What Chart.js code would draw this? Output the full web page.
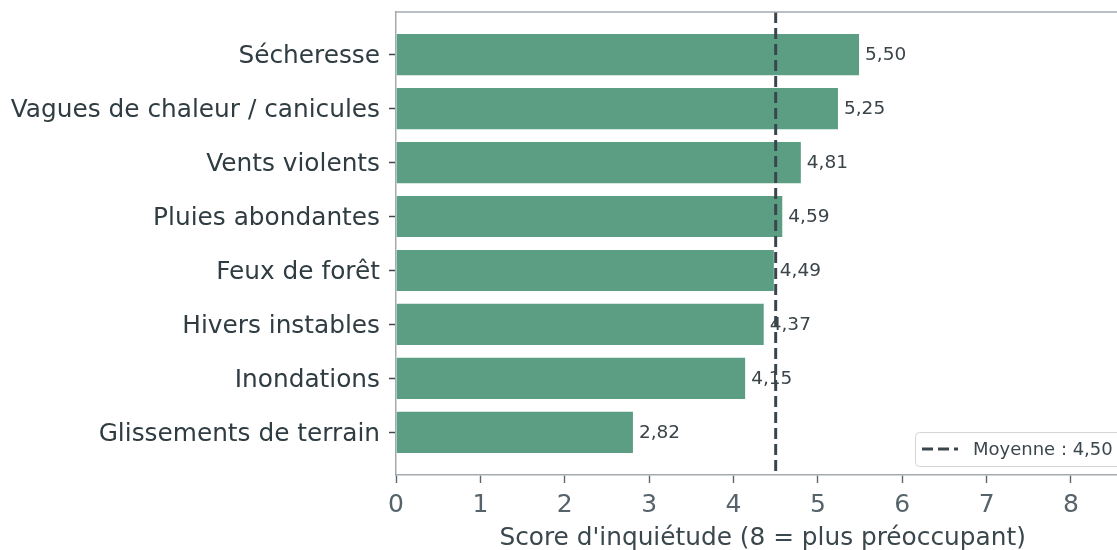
<!DOCTYPE html>
<html>
<head>
<meta charset="utf-8">
<script src="https://cdn.jsdelivr.net/npm/chart.js@4.4.1/dist/chart.umd.min.js"></script>
<style>
  html, body { margin: 0; padding: 0; background: #fff; overflow: hidden; }
  #wrap { width: 1150px; height: 550px; }
</style>
</head>
<body>
<div id="wrap"><canvas id="c" width="1150" height="550"></canvas></div>
<script>
const categories = [
  "Sécheresse",
  "Vagues de chaleur / canicules",
  "Vents violents",
  "Pluies abondantes",
  "Feux de forêt",
  "Hivers instables",
  "Inondations",
  "Glissements de terrain"
];
const scores = [5.50, 5.25, 4.81, 4.59, 4.49, 4.37, 4.15, 2.82];
const meanScore = 4.50;
const meanLabel = "Moyenne : 4,50";
const xTicks = [0, 1, 2, 3, 4, 5, 6, 7, 8];
const xTitle = "Score d'inquiétude (8 = plus préoccupant)";

const X_MAX = 8.69;
const Y_MIN = -0.79, Y_MAX = categories.length - 1 + 0.79;

const FONT = "'DejaVu Sans', sans-serif";
const fmt = v => v.toFixed(2).replace('.', ',');

const valueLabels = {
  id: 'valueLabels',
  afterDatasetDraw(chart, args) {
    if (args.index !== 0) return;
    const ctx = chart.ctx;
    ctx.save();
    ctx.font = "18.5px " + FONT;
    ctx.fillStyle = '#3a4449';
    ctx.textAlign = 'left';
    ctx.textBaseline = 'middle';
    args.meta.data.forEach((el, i) => {
      ctx.fillText(fmt(scores[i]), el.x + 5, el.y + 1);
    });
    ctx.restore();
  }
};

const frame = {
  id: 'frame',
  afterDraw(chart) {
    const {ctx, chartArea: a} = chart;
    ctx.save();
    ctx.strokeStyle = '#a3abae';
    ctx.lineWidth = 1.5;
    ctx.beginPath();
    ctx.moveTo(a.left, a.top);
    ctx.lineTo(a.right, a.top);
    ctx.lineTo(a.right, a.bottom);
    ctx.stroke();
    ctx.restore();
  }
};

const legendBox = {
  id: 'legendBox',
  afterDraw(chart) {
    const ctx = chart.ctx;
    const ds = chart.data.datasets[1];
    const bx = 915.5, by = 432.5, bw = 206, bh = 34, r = 4;
    ctx.save();
    ctx.beginPath();
    ctx.moveTo(bx + r, by);
    ctx.lineTo(bx + bw - r, by);
    ctx.arcTo(bx + bw, by, bx + bw, by + r, r);
    ctx.lineTo(bx + bw, by + bh - r);
    ctx.arcTo(bx + bw, by + bh, bx + bw - r, by + bh, r);
    ctx.lineTo(bx + r, by + bh);
    ctx.arcTo(bx, by + bh, bx, by + bh - r, r);
    ctx.lineTo(bx, by + r);
    ctx.arcTo(bx, by, bx + r, by, r);
    ctx.closePath();
    ctx.fillStyle = 'rgba(255,255,255,0.85)';
    ctx.fill();
    ctx.strokeStyle = '#d4d4d4';
    ctx.lineWidth = 1;
    ctx.stroke();
    ctx.beginPath();
    ctx.setLineDash(ds.borderDash);
    ctx.strokeStyle = ds.borderColor;
    ctx.lineWidth = ds.borderWidth;
    ctx.moveTo(922, 449);
    ctx.lineTo(958, 449);
    ctx.stroke();
    ctx.setLineDash([]);
    ctx.font = "18px " + FONT;
    ctx.fillStyle = '#3a474d';
    ctx.textAlign = 'left';
    ctx.textBaseline = 'middle';
    ctx.fillText(ds.label, 973, 450);
    ctx.restore();
  }
};

new Chart(document.getElementById('c'), {
  type: 'bar',
  data: {
    datasets: [
      {
        label: 'Score',
        data: categories.map((c, i) => ({ x: scores[i], y: i })),
        backgroundColor: '#5c9e84',
        borderColor: 'rgba(255,255,255,0.6)',
        borderWidth: 1,
        barPercentage: 0.8,
        categoryPercentage: 1.0,
        order: 2
      },
      {
        type: 'line',
        label: meanLabel,
        data: [{ x: meanScore, y: Y_MIN }, { x: meanScore, y: Y_MAX }],
        borderColor: '#3b464c',
        borderWidth: 3,
        borderDash: [11, 5],
        pointRadius: 0,
        fill: false,
        order: 1
      }
    ]
  },
  plugins: [valueLabels, frame, legendBox],
  options: {
    indexAxis: 'y',
    responsive: false,
    animation: false,
    layout: { padding: { top: 12, right: 20.8, left: 0, bottom: 0 } },
    plugins: {
      legend: { display: false },
      tooltip: { enabled: false }
    },
    scales: {
      x: {
        type: 'linear',
        min: 0,
        max: X_MAX,
        offset: false,
        afterBuildTicks: s => { s.ticks = xTicks.map(v => ({ value: v })); },
        afterFit: s => { s.height = 75; s.paddingLeft = 0; s.paddingRight = 0; },
        ticks: {
          callback: v => String(v),
          font: { family: FONT, size: 25 },
          color: '#56636a',
          padding: 7,
          maxRotation: 0
        },
        grid: { drawOnChartArea: false, offset: false, tickLength: 8, tickColor: '#5b676c', tickWidth: 1.4 },
        border: { display: true, color: '#a3abae', width: 1.5 },
        title: {
          display: true,
          text: xTitle,
          font: { family: FONT, size: 24.8 },
          color: '#3a474d',
          padding: { top: 0, bottom: -3 }
        }
      },
      y: {
        type: 'linear',
        reverse: true,
        min: Y_MIN,
        max: Y_MAX,
        offset: false,
        afterBuildTicks: s => { s.ticks = categories.map((c, i) => ({ value: i })); },
        afterFit: s => { s.width = 396; s.paddingTop = 0; s.paddingBottom = 0; },
        ticks: {
          callback: v => categories[v],
          font: { family: FONT, size: 24.8 },
          color: '#2f3c42',
          padding: 9,
          labelOffset: 2,
          autoSkip: false
        },
        grid: { drawOnChartArea: false, offset: false, tickLength: 7, tickColor: '#3e494f', tickWidth: 1.5 },
        border: { display: true, color: '#a3abae', width: 1.5 }
      }
    }
  }
});
</script>
</body>
</html>
